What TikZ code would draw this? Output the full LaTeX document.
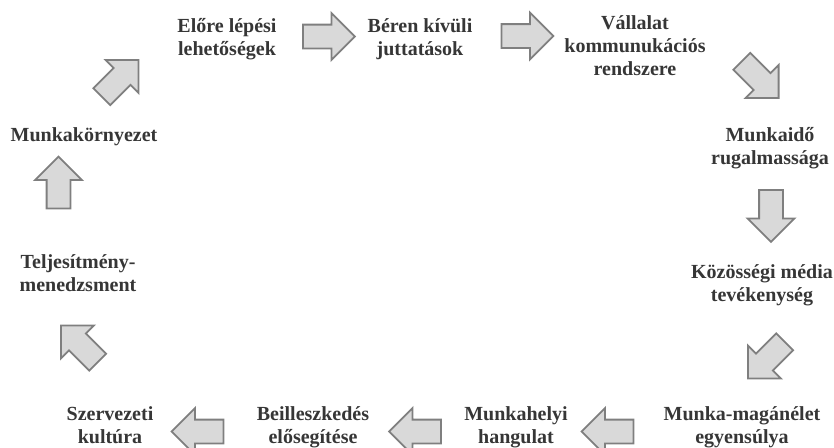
\documentclass[tikz,border=0pt]{standalone}
\usepackage{fontspec}
\setmainfont{Liberation Serif}
\usetikzlibrary{shapes.arrows}
\definecolor{txtgray}{HTML}{363636}
\definecolor{arrfill}{HTML}{D9D9D9}
\definecolor{arrline}{HTML}{7F7F7F}

\begin{document}
\begin{tikzpicture}[
	x=1pt, y=-1pt,
	txt/.style = {
		align=center,
		inner sep=0pt,
		text=txtgray,
		font=\fontsize{20}{23}\selectfont\bfseries,
	},
	arr/.style = {
		single arrow,
		draw=arrline, fill=arrfill,
		line width=1.8pt,
		inner xsep=0pt,
		inner ysep=11pt,
		minimum height=52pt,
		single arrow head extend=11.5pt,
	},
]
\useasboundingbox (0,0) rectangle (834,447);
\clip (0,0) rectangle (834,447);

% Factors, clockwise from top left
\node [txt] (elore) at (227,39) {Előre lépési\\lehetőségek};
\node [txt] (beren) at (420,39) {Béren kívüli\\juttatások};
\node [txt] (vallalat) at (635,46) {Vállalat\\kommunukációs\\rendszere};
\node [txt] (munkaido) at (770,148) {Munkaidő\\rugalmassága};
\node [txt] (kozossegi) at (762,285) {Közösségi média\\tevékenység};
\node [txt] (maganelet) at (742,427) {Munka-magánélet\\egyensúlya};
\node [txt] (hangulat) at (516,427) {Munkahelyi\\hangulat};
\node [txt] (beill) at (313,427) {Beilleszkedés\\elősegítése};
\node [txt] (kultura) at (110,425) {Szervezeti\\kultúra};
\node [txt] (teljes) at (78,273) {Teljesítmény-\\menedzsment};
\node [txt] (kornyezet) at (84,137) {Munkakörnyezet};

% Block arrows between the factors
\node [arr] (a1) at (323,36.5) {};
\node [arr] (a2) at (521.5,36) {};
\node [arr, rotate=-45] (a3) at (756,75.5) {};
\node [arr, rotate=-90] (a4) at (771,210) {};
\node [arr, rotate=-135] (a5) at (770.5,356) {};
\node [arr, rotate=180] (a6) at (613.5,431.5) {};
\node [arr, rotate=180] (a7) at (421,431.5) {};
\node [arr, rotate=180] (a8) at (203.5,431.5) {};
\node [arr, rotate=135] (a9) at (83.5,348) {};
\node [arr, rotate=90] (a10) at (58.5,188.5) {};
\node [arr, rotate=45] (a11) at (116,82.5) {};

\end{tikzpicture}
\end{document}
